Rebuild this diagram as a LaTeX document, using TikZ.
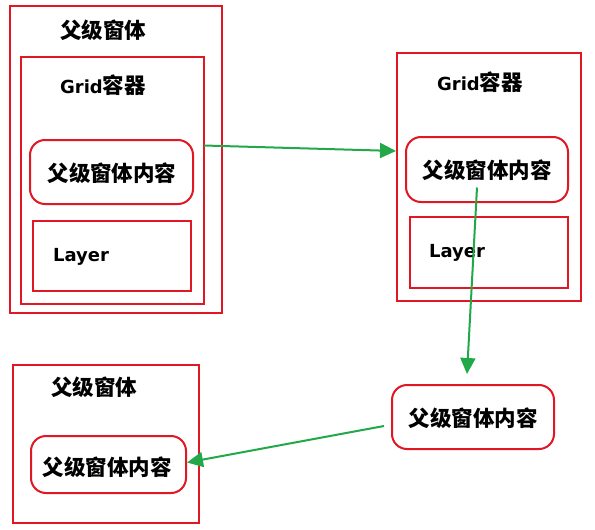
\documentclass[tikz,border=0pt]{standalone}
\usepackage{fontspec}
\setmainfont{Noto Sans CJK SC}
\newfontfamily\latfont{DejaVu Sans}
\usetikzlibrary{arrows.meta}
\definecolor{boxred}{RGB}{225,24,36}
\definecolor{arrgreen}{RGB}{34,168,72}
\newcommand{\cjkbig}{\fontsize{21.5}{21.5}\selectfont\bfseries}
\tikzset{
  frame/.style={draw=boxred, line width=2pt, fill=white, anchor=north west, inner sep=0pt, outer sep=0pt},
  roundbox/.style={frame, rounded corners=15pt},
  lbl/.style={font=\cjkbig, inner sep=0pt},
  latlbl/.style={font=\fontsize{18}{18}\selectfont\latfont\bfseries, inner sep=0pt},
  flow/.style={draw=arrgreen, line width=2pt, -{Triangle[length=16pt,width=15pt]}}
}
\begin{document}
\begin{tikzpicture}[x=1pt,y=-1pt]
\useasboundingbox[fill=white] (0,0) rectangle (595,530);
% top-left group
\node[frame, minimum width=212pt, minimum height=307pt] (o1) at (10,6) {};
\node[frame, minimum width=183pt, minimum height=247pt] (g1) at (21,57) {};
\node[roundbox, minimum width=163pt, minimum height=64pt] (c1) at (30,140) {};
\node[frame, minimum width=158pt, minimum height=70pt] (l1) at (33,221) {};
\node[lbl] (t1) at (103,30) {父级窗体};
\node[latlbl] (t2) at (103,85) {Grid\normalfont\cjkbig 容器};
\node[lbl] (t3) at (112,173) {父级窗体内容};
\node[latlbl] (t4) at (81,257) {Layer};
% top-right group
\node[frame, minimum width=184pt, minimum height=248pt] (o2) at (397,53) {};
\node[roundbox, minimum width=162pt, minimum height=65pt] (c2) at (406,137) {};
\node[frame, minimum width=158pt, minimum height=71pt] (l2) at (410,217) {};
\node[latlbl] (t5) at (480,82) {Grid\normalfont\cjkbig 容器};
\node[lbl] (t6) at (487,170) {父级窗体内容};
\node[latlbl] (t7) at (457,253) {Layer};
% bottom-right
\node[roundbox, minimum width=162pt, minimum height=64pt] (c3) at (392,385) {};
\node[lbl] (t8) at (473,418) {父级窗体内容};
% bottom-left group
\node[frame, minimum width=186pt, minimum height=158pt] (o3) at (13,365) {};
\node[roundbox, minimum width=155pt, minimum height=57pt] (c4) at (31,436) {};
\node[lbl] (t9) at (94,387) {父级窗体};
\node[lbl] (t10) at (107,467) {父级窗体内容};
% arrows
\draw[flow] ([yshift=35pt]g1.east) -- ([xshift=-1pt,yshift=26pt]o2.west);
\draw[flow] ([xshift=-10pt,yshift=-18pt]c2.center) -- ([xshift=-6pt,yshift=11pt]c3.north);
\draw[flow] ([xshift=-8pt,yshift=-9pt]c3.west) -- ([xshift=1pt,yshift=2pt]c4.east);
\end{tikzpicture}
\end{document}
